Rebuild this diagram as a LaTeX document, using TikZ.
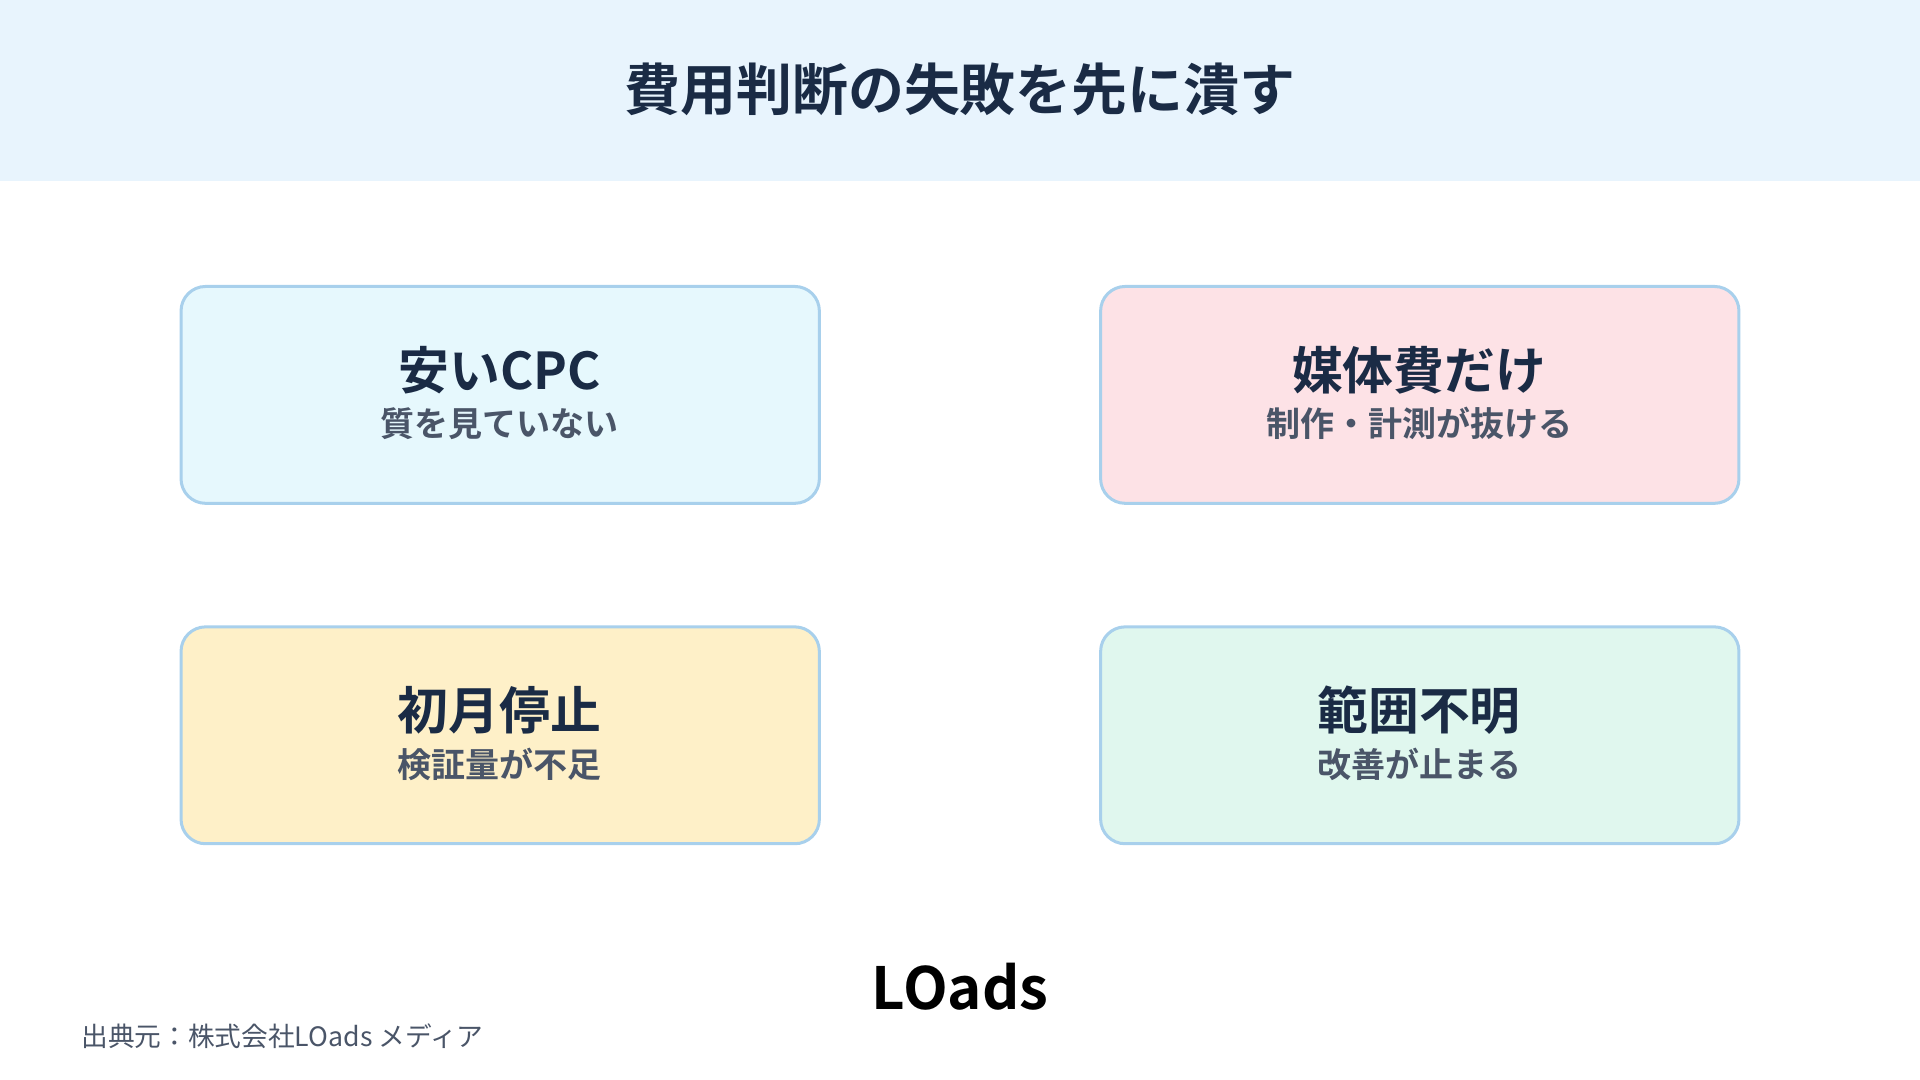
\documentclass[tikz,border=0pt]{standalone}
\usepackage{fontspec}
\setmainfont{Noto Sans CJK JP}
\newfontfamily\jpbold{Noto Sans CJK JP Bold}
\definecolor{headbg}{HTML}{E8F4FD}
\definecolor{inkdark}{HTML}{1A2B45}
\definecolor{inkgray}{HTML}{4A5568}
\definecolor{edgeblue}{HTML}{A8D0EC}
\definecolor{fillcyan}{HTML}{E6F8FD}
\definecolor{fillpink}{HTML}{FDE2E6}
\definecolor{fillyellow}{HTML}{FEF0C8}
\definecolor{fillmint}{HTML}{E0F7EE}
\begin{document}
\begin{tikzpicture}[x=0.01cm,y=-0.01cm]
        \tikzstyle{card} = [draw=edgeblue, line width=0.7pt, rounded corners=0.2cm, minimum width=5.21cm, minimum height=1.77cm]
        \tikzstyle{head} = [text=inkdark, font=\jpbold\fontsize{11.8}{13}\selectfont]
        \tikzstyle{sub} = [text=inkgray, font=\jpbold\fontsize{7.9}{9}\selectfont]

        \useasboundingbox (0,0) rectangle (1568,882);
        \fill[headbg] (0,0) rectangle (1568,148);
        \node[text=inkdark, font=\jpbold\fontsize{13}{14}\selectfont] (title) at (784,73) {費用判断の失敗を先に潰す};

        % four cards
        \node[card, fill=fillcyan] (cpc) at (408.5,322.5) {};
        \node[card, fill=fillpink] (media) at (1159.5,322.5) {};
        \node[card, fill=fillyellow] (stop) at (408.5,600.5) {};
        \node[card, fill=fillmint] (scope) at (1159.5,600.5) {};

        \node[head] (cpcT) at (408,302) {安いCPC};
        \node[sub] (cpcS) at (408,346) {質を見ていない};
        \node[head] (mediaT) at (1159,302) {媒体費だけ};
        \node[sub] (mediaS) at (1159,346) {制作・計測が抜ける};
        \node[head] (stopT) at (408,580) {初月停止};
        \node[sub] (stopS) at (408,624) {検証量が不足};
        \node[head] (scopeT) at (1159,580) {範囲不明};
        \node[sub] (scopeS) at (1159,624) {改善が止まる};

        % logo and source
        \node[text=black, font=\jpbold\fontsize{13.5}{15}\selectfont] (logo) at (784,806) {LOads};
        \node[anchor=west, text=inkgray, font=\fontsize{6.2}{7}\selectfont] (source) at (54,846) {出典元：株式会社LOads メディア};
\end{tikzpicture}
\end{document}
